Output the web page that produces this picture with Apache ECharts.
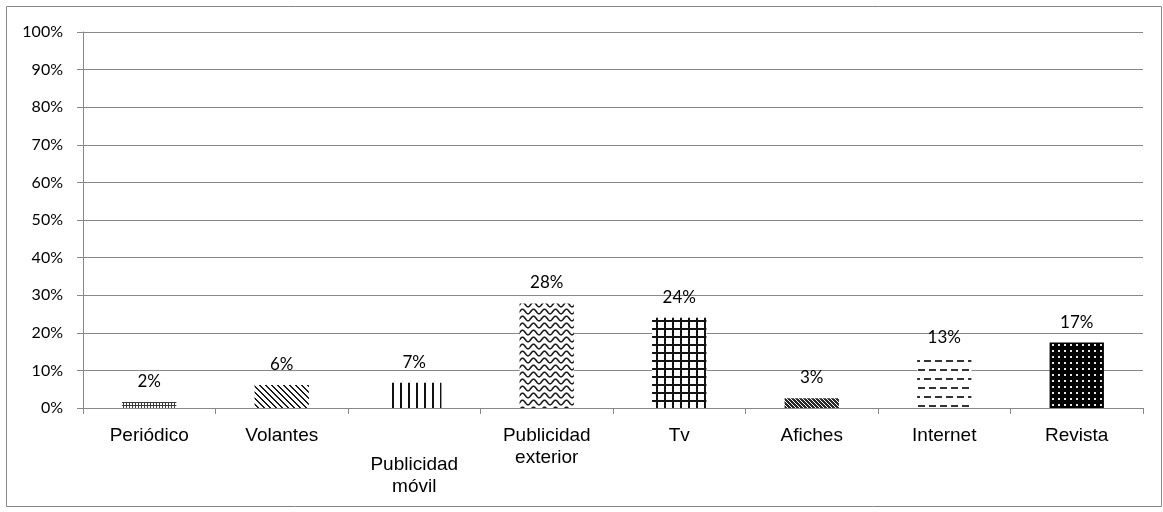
<!DOCTYPE html>
<html>
<head>
<meta charset="utf-8">
<script src="https://cdn.jsdelivr.net/npm/echarts@6/dist/echarts.min.js"></script>
<style>
  html, body { margin: 0; padding: 0; background: #fff; }
  #chart { width: 1163px; height: 512px; }
</style>
</head>
<body>
<div id="chart"></div>
<script>
// Media channels and share of respondents (%)
const categories = ['Periódico', 'Volantes', 'Publicidad\nmóvil', 'Publicidad\nexterior', 'Tv', 'Afiches', 'Internet', 'Revista'];
const shares = [1.6, 6.1, 6.7, 27.8, 24.0, 2.6, 13.4, 17.4];
const yTicks = { min: 0, max: 100, step: 10 };

// Build a repeating canvas fill from a per-tile drawing routine
function pattern(w, h, draw) {
  const c = document.createElement('canvas');
  c.width = w; c.height = h;
  const ctx = c.getContext('2d');
  ctx.fillStyle = '#fff';
  ctx.fillRect(0, 0, w, h);
  draw(ctx, w, h);
  return { image: c, repeat: 'repeat' };
}
function pixels(w, h, test, color) {
  return pattern(w, h, (ctx) => {
    ctx.fillStyle = color;
    for (let y = 0; y < h; y++)
      for (let x = 0; x < w; x++)
        if (test(x, y)) ctx.fillRect(x, y, 1, 1);
  });
}

const fills = [
  // fine dotted grid
  pixels(3, 3, (x, y) => x === 0 || y === 0, '#3a3a3a'),
  // wide downward diagonals
  pixels(6, 6, (x, y) => ((x - y) % 6 + 6) % 6 < 2, '#1a1a1a'),
  // wide vertical lines
  pixels(8, 1, (x) => x < 2, '#111'),
  // waves
  pattern(11, 7, (ctx) => {
    ctx.strokeStyle = '#1a1a1a';
    ctx.lineWidth = 1.6;
    ctx.beginPath();
    for (let x = -2; x <= 13; x += 0.5) {
      const y = 3.5 + 2.3 * Math.cos(2 * Math.PI * x / 11);
      if (x === -2) ctx.moveTo(x, y); else ctx.lineTo(x, y);
    }
    ctx.stroke();
  }),
  // large grid
  pixels(8, 8, (x, y) => x < 2 || y < 2, '#111'),
  // small diamonds
  pixels(4, 4, (x, y) => !((x + y) % 4 === 0 && x % 2 === 0) && !((x + y) % 4 === 2 && x % 2 === 1 && y % 2 === 1), '#2a2a2a'),
  // dashed horizontal lines, offset rows
  pixels(11, 18, (x, y) => (y < 2 && x < 7) || (y >= 9 && y < 11 && ((x + 6) % 11) < 7), '#333'),
  // dark with white dots
  pattern(6, 6, (ctx) => {
    ctx.fillStyle = '#000';
    ctx.fillRect(0, 0, 6, 6);
    ctx.fillStyle = '#e8e8e8';
    ctx.fillRect(2, 2, 2, 2);
  })
];

const chart = echarts.init(document.getElementById('chart'), null, { renderer: 'canvas' });

const gray = '#888888';
const numFont = 'Lato, "Open Sans", sans-serif';
const catFont = '"Liberation Sans", Arial, sans-serif';

chart.setOption({
  animation: false,
  backgroundColor: '#fff',
  graphic: [{
    type: 'rect',
    shape: { x: 6.5, y: 6.5, width: 1155, height: 500 },
    style: { fill: 'none', stroke: gray, lineWidth: 1 },
    silent: true
  }],
  grid: { left: 83, right: 20, top: 32, bottom: 104 },
  xAxis: {
    type: 'category',
    data: categories,
    axisLine: { lineStyle: { color: gray, width: 1 } },
    axisTick: { show: true, length: 6, lineStyle: { color: gray } },
    axisLabel: {
      margin: 17,
      interval: 0,
      verticalAlign: 'top',
      formatter: (v) => v === 'Publicidad\nmóvil' ? '{sp| }\n{c|Publicidad}\n{c|móvil}' : v.split('\n').map(s => '{c|' + s + '}').join('\n'),
      rich: {
        sp: { lineHeight: 29, fontSize: 10 },
        c: { fontFamily: catFont, fontSize: 19, lineHeight: 22, color: '#000' }
      }
    }
  },
  yAxis: {
    type: 'value',
    min: yTicks.min,
    max: yTicks.max,
    interval: yTicks.step,
    axisLine: { show: true, lineStyle: { color: gray, width: 1 } },
    axisTick: { show: true, length: 6, lineStyle: { color: gray } },
    splitLine: { lineStyle: { color: gray, width: 1 } },
    axisLabel: {
      margin: 20,
      formatter: '{value}%',
      fontFamily: numFont,
      fontSize: 16,
      color: '#000'
    }
  },
  series: [{
    type: 'bar',
    barWidth: '41%',
    data: shares.map((v, i) => ({ value: v, itemStyle: { color: fills[i] } })),
    label: {
      show: true,
      position: 'top',
      distance: 12,
      formatter: (p) => Math.round(p.value) + '%',
      fontFamily: numFont,
      fontSize: 17,
      color: '#000'
    }
  }]
});
</script>
</body>
</html>
